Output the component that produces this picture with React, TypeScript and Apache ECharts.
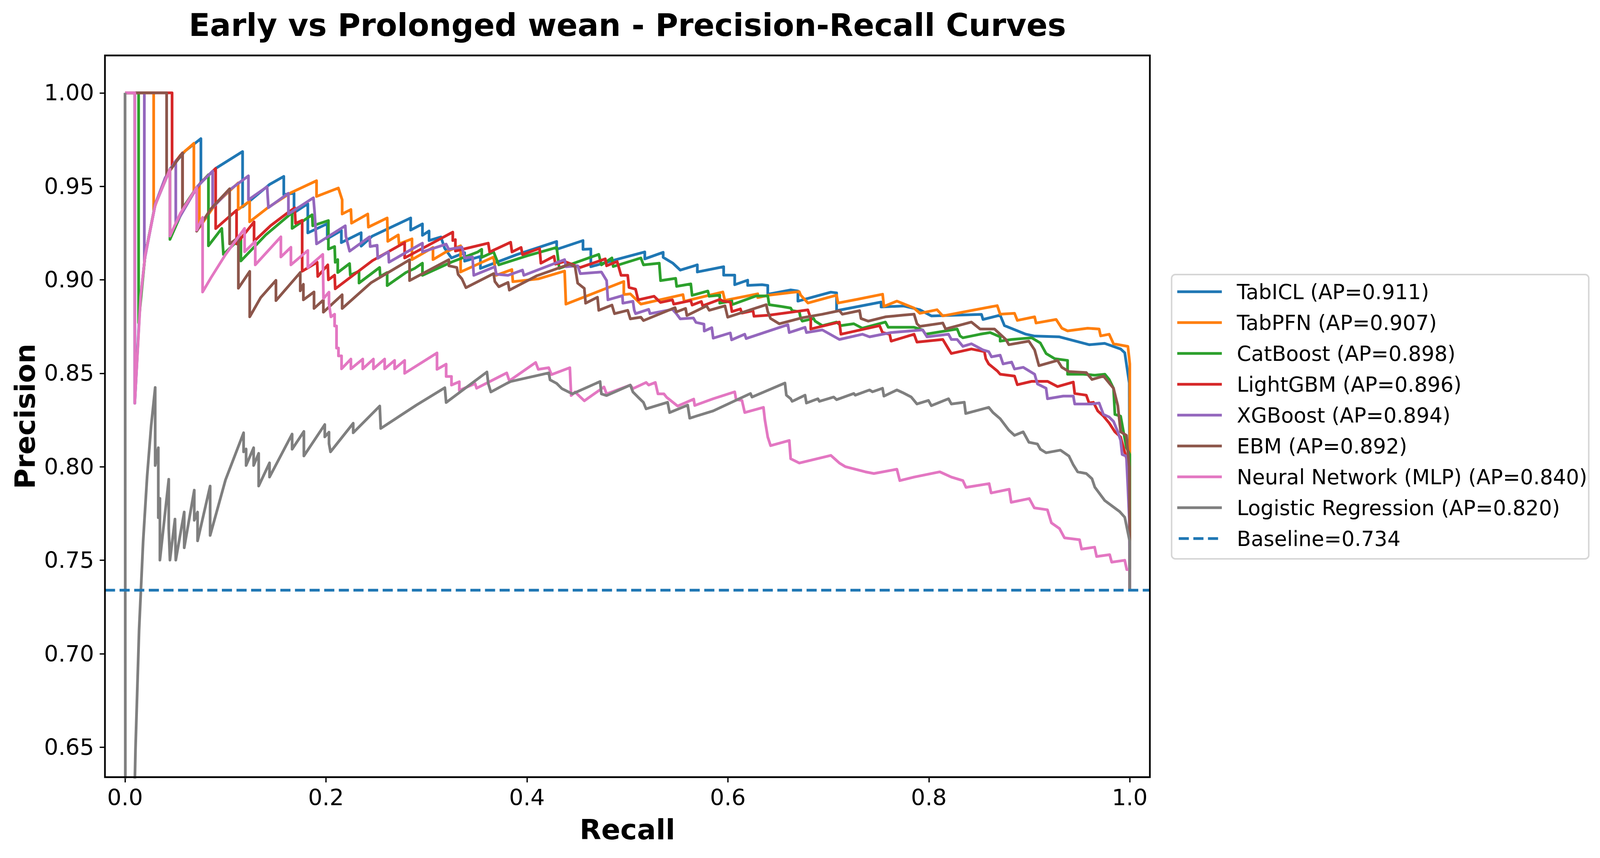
import React, { useEffect, useRef } from "react";
import * as echarts from "echarts";

const REF_W = 4269;
const REF_H = 2197;

const TITLE = "Early vs Prolonged wean - Precision-Recall Curves";
const X_LABEL = "Recall";
const Y_LABEL = "Precision";

const MODEL_NAMES = ["TabICL", "TabPFN", "CatBoost", "LightGBM", "XGBoost", "EBM", "Neural Network (MLP)", "Logistic Regression"];
const MODEL_AP = [0.911, 0.907, 0.898, 0.896, 0.894, 0.892, 0.84, 0.82];
const MODEL_COLORS = ["#1f77b4", "#ff7f0e", "#2ca02c", "#d62728", "#9467bd", "#8c564b", "#e377c2", "#7f7f7f"];
const BASELINE = 0.734;
const BASELINE_COLOR = "#1f77b4";

const X_LIMITS = [-0.02, 1.02];
const Y_LIMITS = [0.634, 1.02];
const X_TICKS = [0, 0.2, 0.4, 0.6, 0.8, 1.0];
const Y_TICKS = [0.65, 0.7, 0.75, 0.8, 0.85, 0.9, 0.95, 1.0];

// [recall, precision]
const PR_TABICL = [[0,1],[0.0097,1],[0.0097,0.834],[0.015,0.888],[0.02,0.913],[0.03,0.94],[0.045,0.9595],[0.06,0.969],[0.0755,0.9755],[0.0755,0.952],[0.0905,0.9597],[0.117,0.9686],[0.117,0.939],[0.1438,0.951],[0.158,0.9553],[0.158,0.9456],[0.1682,0.9463],[0.1682,0.9359],[0.1819,0.9407],[0.1819,0.9251],[0.2013,0.93],[0.2013,0.922],[0.2153,0.9264],[0.2153,0.9199],[0.235,0.9252],[0.235,0.918],[0.2459,0.9233],[0.2843,0.9331],[0.2843,0.9266],[0.296,0.9299],[0.296,0.9238],[0.3026,0.9261],[0.3026,0.921],[0.3144,0.9229],[0.318,0.917],[0.3249,0.9117],[0.338,0.9145],[0.338,0.91],[0.3537,0.9125],[0.3537,0.9061],[0.39,0.9135],[0.4296,0.9205],[0.4296,0.9163],[0.4558,0.921],[0.4558,0.9163],[0.4636,0.9165],[0.4636,0.907],[0.49,0.911],[0.5173,0.9149],[0.5173,0.9112],[0.5356,0.9147],[0.5356,0.912],[0.545,0.909],[0.5526,0.9052],[0.5696,0.908],[0.5696,0.9042],[0.5958,0.907],[0.5958,0.9025],[0.6068,0.9025],[0.6068,0.8974],[0.6197,0.8998],[0.6197,0.897],[0.634,0.8974],[0.6397,0.897],[0.6397,0.8923],[0.6625,0.8946],[0.6697,0.894],[0.6697,0.8886],[0.7025,0.8934],[0.7082,0.893],[0.7082,0.8835],[0.7525,0.8881],[0.7525,0.8855],[0.775,0.886],[0.791,0.884],[0.8025,0.8807],[0.8524,0.8815],[0.8539,0.8788],[0.871,0.8811],[0.8753,0.8755],[0.896,0.871],[0.9053,0.8699],[0.93,0.8695],[0.9596,0.8653],[0.975,0.866],[0.9909,0.863],[0.995,0.861],[0.9995,0.8448],[1.0,0.734]];

const PR_TABPFN = [[0,1],[0.0285,1],[0.0285,0.9375],[0.04,0.9545],[0.055,0.9666],[0.0685,0.973],[0.0685,0.947],[0.074,0.951],[0.074,0.928],[0.09,0.9405],[0.1126,0.9518],[0.1126,0.9376],[0.124,0.9421],[0.124,0.931],[0.1414,0.9383],[0.1651,0.9466],[0.1906,0.953],[0.1906,0.9446],[0.2123,0.9491],[0.2161,0.9428],[0.2161,0.9352],[0.2248,0.9376],[0.2254,0.9303],[0.2416,0.9352],[0.2422,0.9282],[0.2609,0.9331],[0.2615,0.9206],[0.272,0.924],[0.2727,0.9192],[0.2856,0.9219],[0.2856,0.9108],[0.3065,0.9173],[0.3065,0.9108],[0.3196,0.915],[0.334,0.9182],[0.334,0.9042],[0.3668,0.9122],[0.3694,0.9024],[0.385,0.9055],[0.386,0.899],[0.4113,0.9005],[0.4375,0.9047],[0.4388,0.887],[0.4964,0.8991],[0.4964,0.8921],[0.5029,0.8925],[0.5134,0.887],[0.5553,0.8921],[0.5565,0.8885],[0.595,0.8935],[0.597,0.889],[0.6297,0.8925],[0.6297,0.8905],[0.641,0.8918],[0.671,0.8937],[0.6725,0.8918],[0.6797,0.8876],[0.7082,0.8918],[0.7096,0.8876],[0.7282,0.8895],[0.754,0.8923],[0.7553,0.8858],[0.7682,0.8886],[0.7853,0.8849],[0.791,0.8821],[0.8082,0.884],[0.8139,0.8807],[0.8681,0.8862],[0.871,0.8816],[0.8853,0.8821],[0.8881,0.8783],[0.9053,0.8802],[0.9067,0.8769],[0.9267,0.8788],[0.9324,0.8741],[0.9381,0.8727],[0.9581,0.8741],[0.9695,0.8737],[0.971,0.87],[0.9795,0.8709],[0.9838,0.8658],[0.9981,0.8644],[0.9995,0.8578],[1.0,0.855],[1.0,0.797],[1.0,0.734]];

const PR_CATBOOST = [[0,1],[0.0135,1],[0.0135,0.877],[0.02,0.9132],[0.03,0.9404],[0.0447,0.9592],[0.0447,0.9216],[0.06,0.9404],[0.0713,0.9494],[0.083,0.9562],[0.083,0.9182],[0.0963,0.9275],[0.0979,0.9136],[0.1153,0.9226],[0.1153,0.9101],[0.14,0.924],[0.1663,0.9359],[0.1663,0.9275],[0.1862,0.9348],[0.1868,0.9289],[0.2024,0.9317],[0.2024,0.9164],[0.2086,0.9178],[0.2092,0.9094],[0.2117,0.9108],[0.2117,0.9039],[0.2235,0.9087],[0.2242,0.9025],[0.2329,0.9046],[0.2329,0.8983],[0.2534,0.9066],[0.254,0.9018],[0.2609,0.9039],[0.2609,0.8969],[0.2795,0.9039],[0.2882,0.9061],[0.296,0.9089],[0.296,0.9024],[0.325,0.9095],[0.3511,0.9149],[0.355,0.9163],[0.355,0.912],[0.3668,0.9149],[0.372,0.908],[0.4,0.9128],[0.4296,0.9173],[0.4322,0.9061],[0.4715,0.9136],[0.4741,0.908],[0.4846,0.9117],[0.4859,0.9071],[0.5134,0.9117],[0.516,0.908],[0.5317,0.9089],[0.533,0.8996],[0.548,0.9008],[0.549,0.8965],[0.5631,0.8978],[0.5644,0.8917],[0.5801,0.894],[0.5814,0.8912],[0.5919,0.8918],[0.5919,0.8875],[0.604,0.8887],[0.604,0.8867],[0.6282,0.8914],[0.6397,0.8914],[0.6411,0.8867],[0.6525,0.8858],[0.6625,0.8849],[0.664,0.8835],[0.6711,0.883],[0.6725,0.8793],[0.674,0.8779],[0.6854,0.8793],[0.6868,0.8779],[0.694,0.8755],[0.7082,0.8774],[0.7125,0.8755],[0.7253,0.8765],[0.7339,0.8741],[0.7568,0.8774],[0.7596,0.8746],[0.7739,0.8746],[0.7853,0.8746],[0.7939,0.8732],[0.7967,0.8709],[0.8282,0.8737],[0.831,0.87],[0.8339,0.869],[0.851,0.8709],[0.861,0.8718],[0.871,0.8695],[0.871,0.8672],[0.8824,0.8681],[0.9024,0.869],[0.911,0.8662],[0.9167,0.8606],[0.9253,0.8578],[0.9381,0.8569],[0.9381,0.8495],[0.9538,0.8495],[0.9652,0.849],[0.9752,0.8495],[0.9795,0.8467],[0.9838,0.842],[0.9852,0.828],[0.9909,0.8271],[0.9966,0.8103],[1.0,0.8066],[1.0,0.734]];

const PR_LIGHTGBM = [[0,1],[0.0468,1],[0.0468,0.961],[0.0572,0.9679],[0.0572,0.9377],[0.075,0.9518],[0.0902,0.9596],[0.0902,0.9274],[0.111,0.9372],[0.111,0.9192],[0.1284,0.931],[0.1284,0.9206],[0.145,0.929],[0.162,0.9359],[0.1689,0.9385],[0.1697,0.9302],[0.1763,0.9318],[0.1763,0.9046],[0.1912,0.9094],[0.1918,0.9018],[0.2018,0.908],[0.2024,0.9],[0.2086,0.9025],[0.2092,0.8952],[0.2463,0.9103],[0.2783,0.9199],[0.2783,0.9117],[0.3262,0.9255],[0.3262,0.921],[0.3288,0.9215],[0.3288,0.9154],[0.3615,0.9196],[0.3629,0.9149],[0.3838,0.9201],[0.3851,0.9149],[0.3942,0.9173],[0.3956,0.9135],[0.4126,0.9168],[0.4139,0.9089],[0.427,0.9126],[0.4283,0.9084],[0.4375,0.9098],[0.4531,0.9066],[0.478,0.9112],[0.4793,0.9075],[0.4898,0.9098],[0.4937,0.9024],[0.5003,0.9024],[0.5016,0.8959],[0.5081,0.895],[0.5107,0.8893],[0.5265,0.8912],[0.533,0.8879],[0.5448,0.8893],[0.5461,0.887],[0.5631,0.8889],[0.5644,0.8865],[0.5736,0.8884],[0.5749,0.8861],[0.5919,0.8895],[0.5954,0.8886],[0.6025,0.8881],[0.604,0.883],[0.6125,0.8844],[0.6139,0.8822],[0.625,0.8835],[0.626,0.8805],[0.6411,0.8811],[0.6796,0.8839],[0.6825,0.8793],[0.6825,0.8737],[0.711,0.8774],[0.7125,0.8709],[0.751,0.8755],[0.7539,0.8718],[0.761,0.8709],[0.7625,0.8672],[0.7853,0.8709],[0.7882,0.8667],[0.8139,0.8681],[0.8196,0.863],[0.8224,0.8606],[0.8424,0.863],[0.8553,0.8616],[0.8567,0.8578],[0.8596,0.855],[0.8681,0.8513],[0.871,0.8495],[0.8853,0.8485],[0.8881,0.8439],[0.9024,0.8457],[0.9181,0.8457],[0.9281,0.8429],[0.9438,0.8453],[0.9452,0.8392],[0.9567,0.8383],[0.9595,0.8341],[0.9638,0.8345],[0.9681,0.8299],[0.9738,0.8271],[0.9795,0.8234],[0.9852,0.8187],[0.9909,0.8159],[0.9966,0.8047],[0.9995,0.8001],[1.0,0.734]];

const PR_XGBOOST = [[0,1],[0.0192,1],[0.0192,0.91],[0.03,0.9404],[0.04,0.9546],[0.0505,0.9637],[0.0505,0.93],[0.0722,0.95],[0.0872,0.9582],[0.0872,0.9386],[0.1038,0.948],[0.1228,0.9556],[0.1228,0.9428],[0.1414,0.9498],[0.1427,0.9386],[0.1626,0.9463],[0.1626,0.9352],[0.1875,0.9439],[0.1887,0.9359],[0.1906,0.9192],[0.2192,0.9289],[0.2198,0.9233],[0.2235,0.9153],[0.2434,0.923],[0.244,0.9178],[0.2509,0.9185],[0.2515,0.9115],[0.2621,0.915],[0.2627,0.9094],[0.2795,0.9146],[0.296,0.9196],[0.296,0.9149],[0.3196,0.9191],[0.3222,0.9163],[0.3353,0.9175],[0.338,0.9117],[0.3458,0.9122],[0.3471,0.9024],[0.3681,0.907],[0.3695,0.903],[0.3812,0.9024],[0.3956,0.9052],[0.3969,0.9024],[0.4375,0.9108],[0.4388,0.907],[0.4505,0.9075],[0.4531,0.9033],[0.4741,0.9042],[0.4793,0.8996],[0.4806,0.8893],[0.495,0.8915],[0.4955,0.8875],[0.5055,0.8885],[0.5068,0.8838],[0.5081,0.8819],[0.5212,0.8842],[0.5225,0.8819],[0.5448,0.8842],[0.5487,0.8819],[0.5526,0.8791],[0.5657,0.8796],[0.5683,0.8772],[0.5762,0.8763],[0.5765,0.8726],[0.584,0.8744],[0.5854,0.8688],[0.6024,0.8716],[0.6037,0.8679],[0.6168,0.8709],[0.6182,0.8686],[0.6597,0.876],[0.6611,0.8718],[0.6768,0.8746],[0.6782,0.8718],[0.694,0.8732],[0.711,0.8681],[0.7339,0.8709],[0.741,0.8695],[0.7625,0.8718],[0.7939,0.8732],[0.7982,0.8695],[0.8196,0.8709],[0.8224,0.8681],[0.8282,0.8681],[0.8339,0.8644],[0.8424,0.8658],[0.8539,0.8625],[0.8596,0.8616],[0.8624,0.8588],[0.871,0.8597],[0.8739,0.855],[0.8824,0.856],[0.8853,0.8523],[0.8939,0.8532],[0.9053,0.8495],[0.9081,0.8443],[0.9167,0.842],[0.9181,0.8364],[0.9338,0.8378],[0.9438,0.8378],[0.9452,0.8336],[0.9624,0.8336],[0.9695,0.8341],[0.9738,0.828],[0.9795,0.8266],[0.9838,0.8243],[0.9881,0.8187],[0.9909,0.8141],[0.9924,0.8066],[0.9966,0.8057],[0.9981,0.789],[0.9995,0.772],[1.0,0.734]];

const PR_EBM = [[0,1],[0.0414,1],[0.0414,0.956],[0.0572,0.9679],[0.0572,0.9377],[0.0713,0.9494],[0.0713,0.926],[0.0789,0.9326],[0.0855,0.938],[0.1041,0.9487],[0.1041,0.9192],[0.1128,0.9226],[0.1128,0.8955],[0.1241,0.9045],[0.1241,0.8802],[0.135,0.8905],[0.1502,0.8997],[0.1502,0.8889],[0.1744,0.9039],[0.1744,0.8941],[0.1775,0.8976],[0.1775,0.8893],[0.1881,0.8935],[0.1881,0.8847],[0.1974,0.8892],[0.1974,0.8827],[0.2161,0.892],[0.2161,0.8847],[0.245,0.8985],[0.2832,0.9107],[0.2832,0.8996],[0.3223,0.9108],[0.3223,0.9075],[0.3302,0.9066],[0.3315,0.9029],[0.3353,0.9005],[0.3393,0.8958],[0.3668,0.9033],[0.3681,0.8991],[0.372,0.8963],[0.3812,0.8986],[0.3825,0.8945],[0.41,0.9022],[0.4427,0.9084],[0.4479,0.907],[0.4505,0.8982],[0.4571,0.8954],[0.4584,0.8875],[0.4702,0.8907],[0.4715,0.8837],[0.4846,0.8865],[0.4872,0.8819],[0.5003,0.8837],[0.5029,0.8791],[0.5134,0.88],[0.516,0.8782],[0.5474,0.8851],[0.5487,0.8828],[0.5579,0.8847],[0.5592,0.8809],[0.5788,0.8861],[0.5814,0.8837],[0.5971,0.8861],[0.5998,0.88],[0.6382,0.8867],[0.6397,0.883],[0.6425,0.8793],[0.6511,0.8765],[0.674,0.8797],[0.694,0.8816],[0.711,0.8835],[0.7139,0.8816],[0.7311,0.8835],[0.7325,0.8793],[0.7396,0.8779],[0.7568,0.8802],[0.7739,0.8811],[0.7853,0.8816],[0.7882,0.8765],[0.791,0.8751],[0.8139,0.8769],[0.8167,0.8737],[0.8424,0.8774],[0.851,0.8737],[0.8653,0.8737],[0.871,0.8709],[0.8767,0.8681],[0.8796,0.8653],[0.8996,0.8672],[0.9053,0.8625],[0.9096,0.8541],[0.9281,0.8569],[0.9324,0.8532],[0.9395,0.8509],[0.9567,0.8504],[0.9624,0.8467],[0.9681,0.8476],[0.9738,0.8485],[0.9795,0.8448],[0.9838,0.842],[0.9881,0.8327],[0.9909,0.8187],[0.9966,0.8168],[0.9995,0.8001],[1.0,0.76],[1.0,0.734]];

const PR_MLP = [[0,1],[0.0097,1],[0.0097,0.834],[0.0155,0.891],[0.02,0.913],[0.03,0.94],[0.0447,0.9592],[0.0447,0.9234],[0.055,0.9355],[0.0713,0.9494],[0.0713,0.9266],[0.0772,0.9334],[0.0772,0.8935],[0.0855,0.9011],[0.1,0.9135],[0.119,0.9275],[0.119,0.915],[0.1296,0.9206],[0.1296,0.908],[0.1551,0.923],[0.1551,0.9122],[0.1651,0.9174],[0.1651,0.908],[0.1819,0.9157],[0.1819,0.9066],[0.1968,0.9136],[0.1975,0.89],[0.203,0.8934],[0.203,0.8872],[0.2049,0.8802],[0.2086,0.8816],[0.2086,0.8753],[0.2105,0.8753],[0.2105,0.8635],[0.2124,0.8635],[0.2124,0.8593],[0.2155,0.8593],[0.2155,0.8524],[0.2248,0.8576],[0.2248,0.8524],[0.2366,0.8576],[0.2366,0.8524],[0.2472,0.8576],[0.2472,0.8524],[0.2584,0.8576],[0.2584,0.8524],[0.2683,0.8569],[0.2683,0.8524],[0.2783,0.8569],[0.2783,0.85],[0.3105,0.8609],[0.3105,0.8521],[0.3196,0.8549],[0.3196,0.8483],[0.3249,0.8483],[0.3249,0.8437],[0.3327,0.8455],[0.3327,0.8409],[0.3484,0.8445],[0.3499,0.842],[0.3799,0.8502],[0.3825,0.846],[0.4087,0.8558],[0.4113,0.8521],[0.4217,0.853],[0.4244,0.8493],[0.4427,0.853],[0.444,0.8381],[0.4479,0.84],[0.4571,0.8353],[0.4767,0.8427],[0.4793,0.839],[0.5029,0.8437],[0.5055,0.8418],[0.5186,0.8451],[0.5212,0.8437],[0.5278,0.8451],[0.5304,0.839],[0.5363,0.839],[0.539,0.8372],[0.55,0.8325],[0.566,0.8362],[0.567,0.8328],[0.5854,0.8364],[0.6068,0.8401],[0.6082,0.8359],[0.614,0.8355],[0.6168,0.829],[0.6354,0.8318],[0.6368,0.8252],[0.6397,0.8159],[0.6425,0.8113],[0.6611,0.8141],[0.6625,0.8043],[0.6711,0.802],[0.7025,0.8061],[0.711,0.802],[0.7168,0.8001],[0.7368,0.7973],[0.7453,0.7964],[0.7682,0.7987],[0.7711,0.7926],[0.7853,0.7945],[0.811,0.7973],[0.8224,0.7945],[0.8339,0.7926],[0.837,0.789],[0.86,0.791],[0.862,0.786],[0.88,0.788],[0.882,0.781],[0.9,0.783],[0.905,0.778],[0.918,0.777],[0.922,0.77],[0.93,0.767],[0.935,0.762],[0.95,0.761],[0.952,0.756],[0.965,0.757],[0.967,0.752],[0.98,0.753],[0.982,0.749],[0.995,0.75],[0.997,0.745],[1.0,0.745],[1.0,0.734]];

const PR_LOGREG = [[0,1],[0.0006,0.25],[0.005,0.47],[0.008,0.587],[0.0104,0.649],[0.014,0.713],[0.018,0.76],[0.022,0.795],[0.026,0.822],[0.03,0.8424],[0.03,0.8007],[0.0331,0.8102],[0.0331,0.7728],[0.0347,0.7831],[0.0347,0.7501],[0.0435,0.7933],[0.0435,0.767],[0.0447,0.7501],[0.0497,0.772],[0.0505,0.7501],[0.0589,0.7758],[0.0589,0.7567],[0.0689,0.7875],[0.0689,0.7714],[0.0722,0.7758],[0.0722,0.7604],[0.0847,0.7897],[0.0847,0.7633],[0.1,0.793],[0.118,0.8182],[0.118,0.808],[0.1205,0.8095],[0.1205,0.8007],[0.128,0.8102],[0.128,0.8007],[0.133,0.8072],[0.133,0.7897],[0.1438,0.8021],[0.1438,0.7945],[0.1663,0.8175],[0.1663,0.8094],[0.178,0.8189],[0.178,0.8058],[0.1988,0.8226],[0.1988,0.816],[0.203,0.8185],[0.203,0.8124],[0.2045,0.808],[0.2271,0.8233],[0.2271,0.8182],[0.2535,0.8325],[0.2545,0.8205],[0.29,0.833],[0.3183,0.8423],[0.3196,0.8344],[0.3602,0.8507],[0.3615,0.8446],[0.3641,0.84],[0.3799,0.8446],[0.3838,0.8456],[0.4217,0.8502],[0.423,0.8465],[0.4296,0.8446],[0.4348,0.8418],[0.4453,0.839],[0.4728,0.8456],[0.4741,0.839],[0.4793,0.8381],[0.5029,0.8437],[0.5055,0.84],[0.5107,0.8372],[0.516,0.8344],[0.5186,0.831],[0.54,0.8345],[0.542,0.829],[0.56,0.833],[0.562,0.826],[0.5854,0.8299],[0.6225,0.8392],[0.624,0.8373],[0.6568,0.8448],[0.6582,0.8383],[0.6625,0.8364],[0.664,0.835],[0.6768,0.8383],[0.6782,0.8341],[0.6896,0.8364],[0.6911,0.835],[0.7053,0.8373],[0.7082,0.8359],[0.7253,0.8392],[0.7268,0.8383],[0.741,0.8411],[0.7439,0.8401],[0.7539,0.842],[0.7553,0.8378],[0.7682,0.8411],[0.7739,0.8397],[0.7825,0.8373],[0.7882,0.8336],[0.7996,0.8355],[0.8025,0.8327],[0.8196,0.8364],[0.8224,0.8336],[0.8353,0.8345],[0.8367,0.8285],[0.8596,0.8318],[0.8639,0.829],[0.871,0.8257],[0.8796,0.8196],[0.8853,0.8168],[0.8939,0.8187],[0.8996,0.8131],[0.9081,0.8122],[0.911,0.8094],[0.9167,0.8075],[0.931,0.8089],[0.9395,0.8057],[0.9438,0.801],[0.9481,0.7973],[0.9567,0.7964],[0.9624,0.7936],[0.9652,0.7891],[0.975,0.782],[0.985,0.778],[0.99,0.776],[0.995,0.773],[1.0,0.76],[1.0,0.734]];

const MODEL_CURVES = [PR_TABICL, PR_TABPFN, PR_CATBOOST, PR_LIGHTGBM, PR_XGBOOST, PR_EBM, PR_MLP, PR_LOGREG];

const FONT = "DejaVu Sans";

export default function App() {
  const ref = useRef<HTMLDivElement>(null);

  useEffect(() => {
    document.body.style.margin = "0";
    document.body.style.overflow = "hidden";
    const el = ref.current;
    if (!el) return;
    const W = window.innerWidth || REF_W;
    const H = window.innerHeight || REF_H;
    el.style.width = W + "px";
    el.style.height = H + "px";
    const sx = W / REF_W;
    const sy = H / REF_H;
    const sf = Math.min(sx, sy);
    const X = (v: number) => v * sx;
    const Y = (v: number) => v * sy;
    const F = (v: number) => v * sf;

    const chart = echarts.init(el, null, { renderer: "svg", width: W, height: H });

    const grid = { left: X(280), top: Y(142), width: X(2788), height: Y(1848) };
    const lineW = F(7.3);
    const dash = [F(27), F(12)];

    const series: any[] = MODEL_CURVES.map((curve, i) => ({
      name: MODEL_NAMES[i],
      type: "line",
      data: curve,
      showSymbol: false,
      symbol: "none",
      clip: true,
      silent: true,
      z: 2,
      lineStyle: { color: MODEL_COLORS[i], width: lineW, join: "round", cap: "butt" },
      itemStyle: { color: MODEL_COLORS[i] },
      emphasis: { disabled: true },
    }));
    series.push({
      name: "Baseline",
      type: "line",
      data: [[X_LIMITS[0], BASELINE], [X_LIMITS[1], BASELINE]],
      showSymbol: false,
      symbol: "none",
      clip: true,
      silent: true,
      z: 3,
      lineStyle: { color: BASELINE_COLOR, width: lineW, type: dash, cap: "butt" },
      emphasis: { disabled: true },
    });

    const legendLabels = MODEL_NAMES.map((n, i) => `${n} (AP=${MODEL_AP[i].toFixed(3)})`);
    legendLabels.push(`Baseline=${BASELINE.toFixed(3)}`);
    const legendColors = [...MODEL_COLORS, BASELINE_COLOR];

    const LEG = { x: X(3126), y: Y(703), w: X(1113), h: Y(728), row0: Y(747), rowGap: Y(79), hx1: X(3141), hx2: X(3260), tx: X(3300) };
    const legendEls: any[] = [
      {
        type: "rect",
        shape: { x: LEG.x, y: LEG.y, width: LEG.w, height: LEG.h, r: F(10) },
        style: { fill: "#ffffff", stroke: "#d6d6d6", lineWidth: F(4) },
        z: 50,
      },
    ];
    legendLabels.forEach((label, i) => {
      const cy = LEG.row0 + LEG.rowGap * i;
      const dashed = i === legendLabels.length - 1;
      legendEls.push({
        type: "line",
        shape: { x1: dashed ? LEG.hx1 + F(4) : LEG.hx1, y1: cy, x2: LEG.hx2, y2: cy },
        style: { stroke: legendColors[i], lineWidth: lineW, lineDash: dashed ? dash : null, lineCap: "butt" },
        z: 51,
      });
      legendEls.push({
        type: "text",
        style: { text: label, x: LEG.tx, y: cy, fill: "#000", fontSize: F(55), fontFamily: FONT, align: "left", verticalAlign: "middle" },
        z: 51,
      });
    });

    const option: any = {
      animation: false,
      backgroundColor: "#ffffff",
      grid: { left: grid.left, top: grid.top, width: grid.width, height: grid.height, containLabel: false },
      xAxis: {
        type: "value",
        min: X_LIMITS[0],
        max: X_LIMITS[1],
        axisLine: { show: false, onZero: false },
        axisTick: { show: true, inside: false, length: F(14), customValues: X_TICKS, lineStyle: { color: "#000", width: F(3.5) } },
        axisLabel: { show: true, customValues: X_TICKS, formatter: (v: number) => v.toFixed(1), fontSize: F(60), fontFamily: FONT, color: "#000", margin: F(25) },
        splitLine: { show: false },
      },
      yAxis: {
        type: "value",
        min: Y_LIMITS[0],
        max: Y_LIMITS[1],
        axisLine: { show: false, onZero: false },
        axisTick: { show: true, inside: false, length: F(14), customValues: Y_TICKS, lineStyle: { color: "#000", width: F(3.5) } },
        axisLabel: { show: true, customValues: Y_TICKS, formatter: (v: number) => v.toFixed(2), fontSize: F(60), fontFamily: FONT, color: "#000", margin: F(29) },
        splitLine: { show: false },
      },
      series,
      graphic: [
        {
          type: "rect",
          shape: { x: grid.left, y: grid.top, width: grid.width, height: grid.height },
          style: { fill: "none", stroke: "#000", lineWidth: F(4.5) },
          z: 100,
          silent: true,
        },
        {
          type: "text",
          style: { text: TITLE, x: grid.left + grid.width / 2, y: Y(64), fill: "#000", fontSize: F(83), fontWeight: "bold", fontFamily: FONT, align: "center", verticalAlign: "middle" },
          z: 100,
        },
        {
          type: "text",
          style: { text: X_LABEL, x: grid.left + grid.width / 2, y: Y(2124), fill: "#000", fontSize: F(75), fontWeight: "bold", fontFamily: FONT, align: "center", verticalAlign: "middle" },
          z: 100,
        },
        {
          type: "text",
          x: X(67),
          y: grid.top + grid.height / 2,
          rotation: Math.PI / 2,
          style: { text: Y_LABEL, x: 0, y: 0, fill: "#000", fontSize: F(75), fontWeight: "bold", fontFamily: FONT, align: "center", verticalAlign: "middle" },
          z: 100,
        },
        ...legendEls,
      ],
    };

    chart.setOption(option);
    return () => {
      chart.dispose();
    };
  }, []);

  return <div ref={ref} style={{ width: "100vw", height: "100vh", background: "#fff" }} />;
}
